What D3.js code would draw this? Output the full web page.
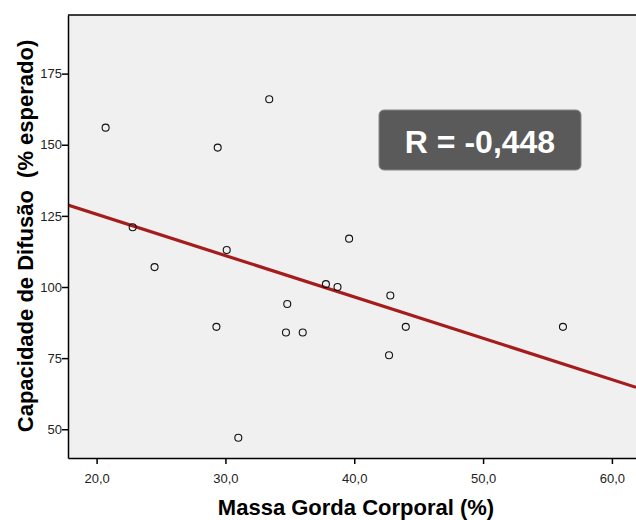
<!DOCTYPE html>
<html>
<head>
<meta charset="utf-8">
<script src="https://cdn.jsdelivr.net/npm/d3@7"></script>
<style>
  body { margin: 0; background: #fff; }
  svg text { font-family: "Liberation Sans", Arial, sans-serif; }
</style>
</head>
<body>
<script>
// Set SVG width and height
var width = 636,
    height = 520;

// plot area
const padLeft = 68, padTop = 15, plotRight = 636, plotBottom = 458;

// data
const gordura = [20.7, 29.4, 33.4, 22.8, 30.1, 24.5, 29.3, 34.8, 34.7, 36.0, 31.0, 39.6, 37.8, 38.7, 42.8, 44.0, 42.7, 56.2];
const difusao = [156, 149, 166, 121, 113, 107, 86, 94, 84, 84, 47, 117, 101, 100, 97, 86, 76, 86];
const xTicks = [20, 30, 40, 50, 60];
const yTicks = [50, 75, 100, 125, 150, 175];
const rLabel = "R = -0,448";

const points = gordura.map(function(d, i) { return {x: d, y: difusao[i]}; });

var svg = d3.select('body').append('svg')
    .attr('width', width)
    .attr('height', height);

var x = d3.scaleLinear().domain([17.78, 61.87]).range([padLeft, plotRight]);
var y = d3.scaleLinear().domain([39.9, 195.6]).range([plotBottom, padTop]);

// background
svg.append('rect')
    .attr('x', padLeft).attr('y', padTop)
    .attr('width', plotRight - padLeft).attr('height', plotBottom - padTop)
    .attr('fill', '#f0f0f0');

// least squares fit line
var mx = d3.mean(gordura), my = d3.mean(difusao);
var sxy = d3.sum(points, function(d) { return (d.x - mx) * (d.y - my); });
var sxx = d3.sum(points, function(d) { return (d.x - mx) * (d.x - mx); });
var slope = sxy / sxx, intercept = my - slope * mx;
var xd = x.domain();

svg.append('clipPath').attr('id', 'clip')
  .append('rect').attr('x', padLeft).attr('y', padTop)
  .attr('width', plotRight - padLeft).attr('height', plotBottom - padTop);

svg.append('line')
    .attr('clip-path', 'url(#clip)')
    .attr('x1', x(xd[0])).attr('y1', y(intercept + slope * xd[0]))
    .attr('x2', x(xd[1])).attr('y2', y(intercept + slope * xd[1]))
    .attr('stroke', '#a51c1c')
    .attr('stroke-width', 3.2);

// points
svg.selectAll('circle')
    .data(points)
    .enter()
    .append('circle')
    .attr('cx', function(d) { return x(d.x); })
    .attr('cy', function(d) { return y(d.y); })
    .attr('r', 3.5)
    .attr('fill', 'none')
    .attr('stroke', '#111')
    .attr('stroke-width', 1.1);

// axes
var fmt = function(d) { return d3.format('.1f')(d).replace('.', ','); };

var xAxis = svg.append('g')
    .attr('transform', 'translate(0,' + plotBottom + ')')
    .call(d3.axisBottom(x).tickValues(xTicks).tickFormat(fmt).tickSize(6).tickSizeOuter(0));
var yAxis = svg.append('g')
    .attr('transform', 'translate(' + padLeft + ',0)')
    .call(d3.axisLeft(y).tickValues(yTicks).tickSize(6).tickSizeOuter(0));

[xAxis, yAxis].forEach(function(a) {
  a.select('.domain').attr('stroke', '#000').attr('stroke-width', 1.5);
  a.selectAll('.tick line').attr('stroke', '#000').attr('stroke-width', 1.5);
  a.selectAll('.tick text')
    .attr('fill', '#222')
    .style('font-size', '13px')
    .style('font-family', '"Liberation Sans", Arial, sans-serif');
});
xAxis.selectAll('.tick text').attr('dy', '1.25em');
yAxis.selectAll('.tick text').attr('x', -6);

// top border
svg.append('line')
    .attr('x1', padLeft).attr('x2', plotRight)
    .attr('y1', padTop).attr('y2', padTop)
    .attr('stroke', '#000').attr('stroke-width', 1.5);

// titles
svg.append('text')
    .attr('x', 356).attr('y', 515)
    .attr('text-anchor', 'middle')
    .style('font-size', '22px').style('font-weight', 'bold')
    .text('Massa Gorda Corporal (%)');

svg.append('text')
    .attr('transform', 'translate(33,236) rotate(-90)')
    .attr('text-anchor', 'middle')
    .style('font-size', '22px').style('font-weight', 'bold')
    .style('white-space', 'pre')
    .text('Capacidade de Difusão\u00a0 (% esperado)');

// R label box
var box = svg.append('g').attr('transform', 'translate(480,140)');
box.append('rect')
    .attr('x', -101).attr('y', -30)
    .attr('width', 202).attr('height', 60)
    .attr('rx', 5)
    .attr('fill', '#5a5a5a')
    .attr('stroke', '#888');
box.append('text')
    .attr('x', 0).attr('y', 13)
    .attr('text-anchor', 'middle')
    .attr('fill', '#fff')
    .style('font-size', '32px').style('font-weight', 'bold')
    .text(rLabel);
</script>
</body>
</html>
